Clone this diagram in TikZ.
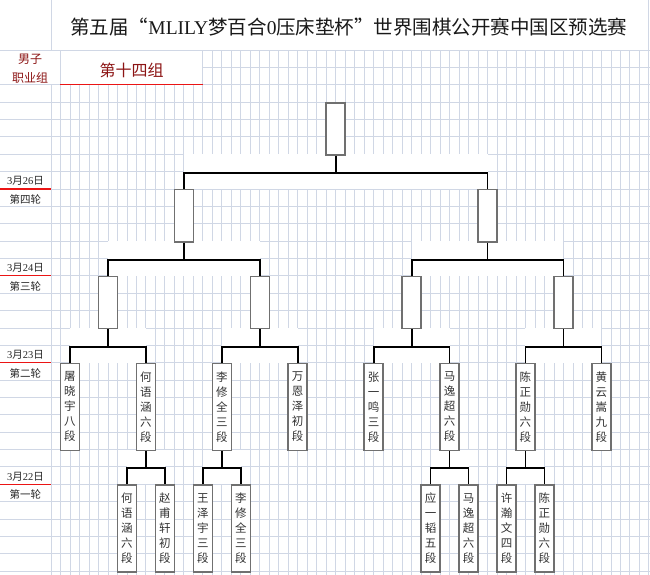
\documentclass[tikz,border=0pt]{standalone}
\usepackage{fontspec}
\setmainfont{Liberation Serif}
\newfontfamily\cjk{Noto Sans CJK SC}
\usepackage{tikz}
\usetikzlibrary{positioning}
\definecolor{gridblue}{RGB}{208,215,229}
\definecolor{boxgray}{RGB}{112,112,112}
\definecolor{grpred}{RGB}{140,20,20}
\definecolor{linered}{RGB}{235,20,20}
\tikzset{
  gline/.style={draw=gridblue, line width=0.8pt},
  redline/.style={draw=linered, line width=1.3pt},
  bline/.style={draw=black, line width=1.8pt},
  pbox/.style={draw=boxgray, line width=1.5pt, fill=white, inner sep=0pt,
    minimum width=18.98pt, minimum height=52.11pt, anchor=north,
    align=center, text=black!80, font=\cjk\fontsize{11.5}{15}\selectfont},
  tall/.style={minimum height=86.85pt},
  lbl/.style={font=\fontsize{10.5}{12}\selectfont, text=black!85}
}

\begin{document}
\begin{tikzpicture}[x=9.49pt, y=-17.37pt]
\useasboundingbox (-5.374,-2.879) rectangle (63.12,30.224);
\fill[white] (-5.374,-2.879) rectangle (63.12,30.224);

% grid
\draw[gline] (-5.374,0) -- (63.12,0);
\draw[gline] (0,-2.879) -- (0,0) (63,-2.879) -- (63,0);
\draw[gline] (16,1) -- (63.12,1);
\foreach \k in {2,...,30}
  \draw[gline] (-5.374,\k) -- (63.12,\k);
\foreach \j in {0,2,3,...,15}
  \draw[gline] (\j,2) -- (\j,30.224);
\foreach \j in {1,16,17,...,63}
  \draw[gline] (\j,0) -- (\j,30.224);

% white cells round the brackets
\foreach \a/\b/\r in {14/46/7, 6/22/12, 38/54/12, 2/10/17, 18/26/17,
    34/42/17, 50/58/17, 8/12/24, 16/20/24, 40/44/24, 48/52/24}
  \fill[white] (\a,\r-1) rectangle (\b,\r+1);

% headings
\node[font=\fontsize{19.5}{24}\selectfont, text=black!90] (title) at (31.4,-1.3)
  {{\cjk 第五届“}MLILY{\cjk 梦百合}0{\cjk 压床垫杯”世界围棋公开赛中国区预选赛}};
\node[font=\cjk\fontsize{12}{19}\selectfont, text=grpred, align=center] (grp) at (-2.2,1.1) {男子\\职业组};
\node[font=\cjk\fontsize{16}{18}\selectfont, text=grpred] (team) at (8.5,1.15) {第十四组};
\draw[redline] (1,2) -- (16,2);

% rounds
\foreach \k/\d/\n in {8/26/四, 13/24/三, 18/23/二, 25/22/一} {
  \draw[redline] (-5.374,\k) -- (0,\k);
  \node[lbl] (date\k) at (-2.7,\k-0.45) {3{\cjk 月}\d{\cjk 日}};
  \node[lbl] (rnd\k) at (-2.7,\k+0.6) {\cjk 第\n 轮};
}

% final, semis, quarters
\node[pbox] (w) at (30,3) {};
\node[pbox] (s1) at (14,8) {};
\node[pbox] (s2) at (46,8) {};
\node[pbox] (q1) at (6,13) {};
\node[pbox] (q2) at (22,13) {};
\node[pbox] (q3) at (38,13) {};
\node[pbox] (q4) at (54,13) {};

% second round
\node[pbox, tall] (e1) at (2,18) {屠\\晓\\宇\\八\\段};
\node[pbox, tall] (e2) at (10,18) {何\\语\\涵\\六\\段};
\node[pbox, tall] (e3) at (18,18) {李\\修\\全\\三\\段};
\node[pbox, tall] (e4) at (26,18) {万\\恩\\泽\\初\\段};
\node[pbox, tall] (e5) at (34,18) {张\\一\\鸣\\三\\段};
\node[pbox, tall] (e6) at (42,18) {马\\逸\\超\\六\\段};
\node[pbox, tall] (e7) at (50,18) {陈\\正\\勋\\六\\段};
\node[pbox, tall] (e8) at (58,18) {黄\\云\\嵩\\九\\段};

% first round
\node[pbox, tall] (p1) at (8,25) {何\\语\\涵\\六\\段};
\node[pbox, tall] (p2) at (12,25) {赵\\甫\\轩\\初\\段};
\node[pbox, tall] (p3) at (16,25) {王\\泽\\宇\\三\\段};
\node[pbox, tall] (p4) at (20,25) {李\\修\\全\\三\\段};
\node[pbox, tall] (p5) at (40,25) {应\\一\\韬\\五\\段};
\node[pbox, tall] (p6) at (44,25) {马\\逸\\超\\六\\段};
\node[pbox, tall] (p7) at (48,25) {许\\瀚\\文\\四\\段};
\node[pbox, tall] (p8) at (52,25) {陈\\正\\勋\\六\\段};

% brackets
\foreach \p/\a/\b in {w/s1/s2, s1/q1/q2, s2/q3/q4, q1/e1/e2, q2/e3/e4,
    q3/e5/e6, q4/e7/e8, e2/p1/p2, e3/p3/p4, e6/p5/p6, e7/p7/p8} {
  \path (\p.south) ++(0,1) coordinate (j\p);
  \draw[bline] (\p.south) -- (j\p);
  \draw[bline] (\a.north) |- (j\p) -| (\b.north);
}
\end{tikzpicture}
\end{document}
